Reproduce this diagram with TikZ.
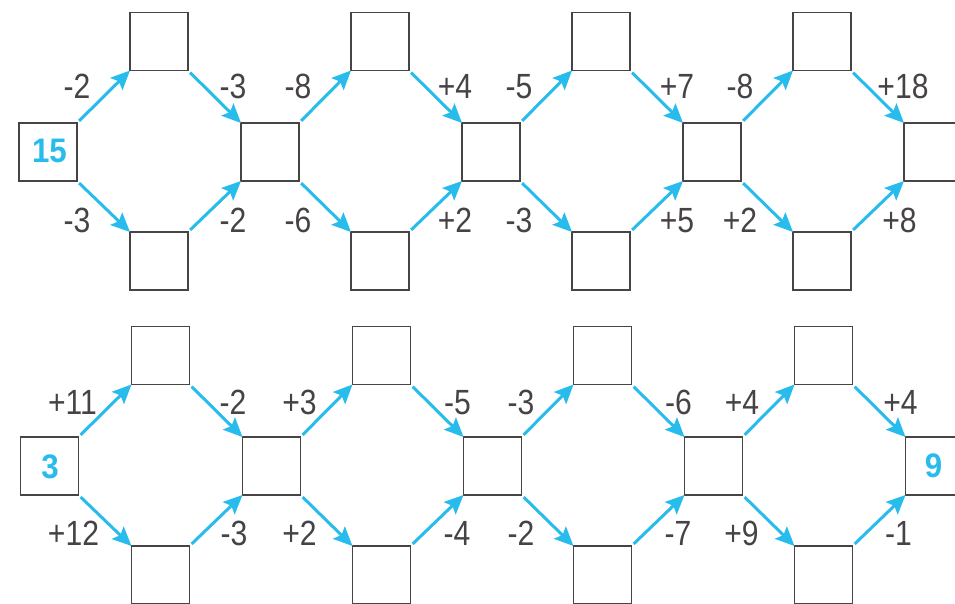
\documentclass[tikz,border=0pt]{standalone}
\usepackage{fontspec}
\setmainfont{Liberation Sans}
\newfontfamily\labfont[FakeStretch=0.86]{Liberation Sans}
\newfontfamily\givenfont[FakeStretch=0.92]{Liberation Sans Bold}
\usetikzlibrary{arrows.meta}
\definecolor{arrowblue}{RGB}{40,188,236}
\definecolor{boxgray}{RGB}{72,68,70}
\definecolor{labgray}{RGB}{70,66,70}
\tikzset{
  cell/.style={draw=boxgray, line width=1.3pt, minimum size=58pt, inner sep=0pt, outer sep=0pt},
  flow/.style={draw=arrowblue, line width=3pt, shorten <=3pt, -{Stealth[length=19pt,width=17pt,inset=3.5pt]}},
  oplabel/.style={anchor=base, inner sep=0pt, text=labgray, font=\labfont\fontsize{35}{35}\selectfont},
  given/.style={inner sep=0pt, text=arrowblue, font=\givenfont\fontsize{34}{34}\selectfont},
}
\begin{document}
\begin{tikzpicture}[x=1pt,y=-1pt]
\useasboundingbox (0,0) rectangle (955,604);
\clip (0,0) rectangle (955,604);
\fill[white] (0,0) rectangle (955,604);
\foreach \r/\dy/\dx in {1/0/0,2/314/1.5}{
  \foreach \i/\xx in {0/48,1/270,2/491,3/712,4/933}
    \node[cell] (m-\r-\i) at (\xx+\dx,152+\dy) {};
  \foreach \i/\xx in {0/159,1/380,2/601,3/822}{
    \node[cell] (t-\r-\i) at (\xx+\dx,41.5+\dy) {};
    \node[cell] (b-\r-\i) at (\xx+\dx,261+\dy) {};
  }
  \foreach \i [count=\j from 1] in {0,...,3}{
    \draw[flow] (m-\r-\i.north east) -- (t-\r-\i.south west);
    \draw[flow] (t-\r-\i.south east) -- (m-\r-\j.north west);
    \draw[flow] (m-\r-\i.south east) -- (b-\r-\i.north west);
    \draw[flow] (b-\r-\i.north east) -- (m-\r-\j.south west);
  }
}
% given numbers
\node[given] (g15) at (49.5,151) {15};
\node[given] (g3) at (50,467) {3};
\node[given] (g9) at (933.5,466) {9};
% operation labels
\foreach \k/\t/\xx/\yy in {
  a1/-2/77/99, a2/-3/233/99, a3/-8/298/99, a4/+4/455/99,
  a5/-5/519/99, a6/+7/677/99, a7/-8/740/99, a8/+18/903/99,
  b1/-3/77/232, b2/-2/233/232, b3/-6/298/232, b4/+2/455/232,
  b5/-3/519/232, b6/+5/677/232, b7/+2/740/232, b8/+8/899.5/232,
  c1/+11/72.5/414, c2/-2/233/414, c3/+3/299.5/414, c4/-5/457.5/414,
  c5/-3/521/414, c6/-6/678.5/414, c7/+4/742/414, c8/+4/900.5/414,
  d1/+12/73.5/545, d2/-3/234/545, d3/+2/299.5/545, d4/-4/457/545,
  d5/-2/521/545, d6/-7/678/545, d7/+9/741.5/545, d8/-1/898.5/545}
  \node[oplabel] (lab-\k) at (\xx,\yy) {\t};
\end{tikzpicture}
\end{document}
